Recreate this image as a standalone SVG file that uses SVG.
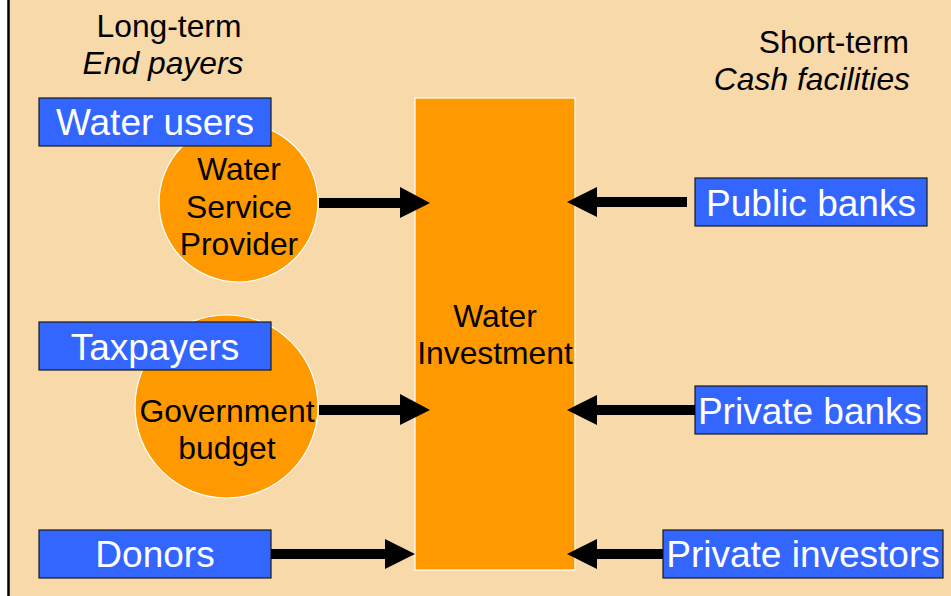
<svg xmlns="http://www.w3.org/2000/svg" width="951" height="596" viewBox="0 0 951 596">
  <style>
    text { font-family: "Liberation Sans", Arial, sans-serif; fill: #000; }
    .lbl { font-size: 31.8px; }
    .it { font-style: italic; }
    .box rect { fill: #3366FF; stroke: #1a1a1a; stroke-width: 1.2; }
    .box text { fill: #fff; font-size: 37px; text-anchor: middle; }
    .circ circle { fill: #FF9900; stroke: #fff; stroke-width: 1.2; }
    .circ text { font-size: 31.8px; text-anchor: middle; }
    .shaft { stroke: #000; stroke-width: 10; }
    .head { fill: #000; }
  </style>
  <rect x="0" y="0" width="951" height="596" fill="#fff"/>
  <rect x="8" y="0" width="943" height="596" fill="#F8D9AA"/>
  <line x1="8.5" y1="0" x2="8.5" y2="596" stroke="#000" stroke-width="2.5"/>

  <g id="headers">
    <text class="lbl" x="169" y="37" text-anchor="middle">Long-term</text>
    <text class="lbl it" x="163" y="74" text-anchor="middle">End payers</text>
    <text class="lbl" x="909" y="53" text-anchor="end">Short-term</text>
    <text class="lbl it" x="910" y="90" text-anchor="end">Cash facilities</text>
  </g>

  <g id="water-investment">
    <rect x="415" y="98" width="160" height="472" fill="#FF9900" stroke="#fff" stroke-width="1.2"/>
    <text class="lbl" x="495" y="327" text-anchor="middle">Water</text>
    <text class="lbl" x="495" y="364" text-anchor="middle">Investment</text>
  </g>

  <g id="water-service-provider" class="circ">
    <circle cx="238.5" cy="202.5" r="79.5"/>
    <text x="239" y="180">Water</text>
    <text x="239" y="218">Service</text>
    <text x="239" y="255">Provider</text>
  </g>

  <g id="government-budget" class="circ">
    <circle cx="226.5" cy="406.5" r="91.5"/>
    <text x="227" y="422">Government</text>
    <text x="227" y="459">budget</text>
  </g>

  <g id="water-users" class="box">
    <rect x="39" y="98" width="232" height="48"/>
    <text x="155" y="135">Water users</text>
  </g>

  <g id="taxpayers" class="box">
    <rect x="39" y="322" width="232" height="48"/>
    <text x="155" y="360">Taxpayers</text>
  </g>

  <g id="donors" class="box">
    <rect x="39" y="530" width="232" height="48"/>
    <text x="155" y="567">Donors</text>
  </g>

  <g id="public-banks" class="box">
    <rect x="695" y="178" width="232" height="48"/>
    <text x="811" y="216">Public banks</text>
  </g>

  <g id="private-banks" class="box">
    <rect x="695" y="386" width="232" height="48"/>
    <text x="810" y="424">Private banks</text>
  </g>

  <g id="connectors">
    <line class="shaft" x1="319" y1="203" x2="402" y2="203"/>
    <polygon class="head" points="400,187 430,203 400,218"/>
    <line class="shaft" x1="319" y1="410" x2="402" y2="410"/>
    <polygon class="head" points="400,394 430,410 400,425"/>
    <line class="shaft" x1="271" y1="554" x2="387" y2="554"/>
    <polygon class="head" points="385,539 415,554 385,569"/>
    <line class="shaft" x1="595" y1="202" x2="687" y2="202"/>
    <polygon class="head" points="597,187 567,202 597,217"/>
    <line class="shaft" x1="595" y1="410" x2="695" y2="410"/>
    <polygon class="head" points="597,395 567,410 597,425"/>
    <line class="shaft" x1="595" y1="554" x2="663" y2="554"/>
    <polygon class="head" points="597,539 567,554 597,569"/>
  </g>

  <g id="private-investors" class="box">
    <rect x="663" y="530" width="280" height="48"/>
    <text x="803" y="567">Private investors</text>
  </g>
</svg>
